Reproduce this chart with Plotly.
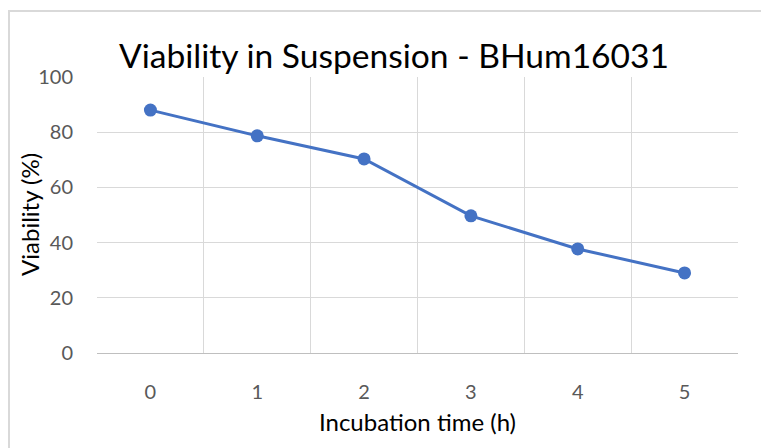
import plotly.graph_objects as go

hours = [0, 1, 2, 3, 4, 5]
hour_labels = ["0", "1", "2", "3", "4", "5"]
viability = [88.0, 78.7, 70.3, 49.7, 37.7, 29.0]
y_ticks = [0, 20, 40, 60, 80, 100]

fig = go.Figure()
fig.add_trace(go.Scatter(
    x=hours, y=viability, mode="lines+markers",
    line=dict(color="#4472C4", width=3),
    marker=dict(color="#4472C4", size=13),
    showlegend=False,
))

font_family = "Lato, Open Sans, sans-serif"
# the page body adds an 8px offset; margins are set in figure coordinates
L, R, T, B = 89, 39, 69, 103
W, H = 769, 448
pw, ph = W - L - R, H - T - B

fig.update_layout(
    width=W, height=H,
    margin=dict(l=L, r=R, t=T, b=B, autoexpand=False),
    paper_bgcolor="white", plot_bgcolor="white",
    title=dict(text="Viability in Suspension - BHum16031", x=386 / W, xanchor="center",
               xref="container", yref="container", y=0.893, yanchor="middle",
               font=dict(family=font_family, size=33.6, color="#000000")),
    xaxis=dict(
        range=[-0.5, 5.5], tickvals=hours, ticktext=hour_labels,
        showgrid=False, zeroline=False, automargin=False,
        showline=True, linecolor="#bfbfbf", linewidth=1,
        ticks="", ticklabelstandoff=21,
        tickfont=dict(family=font_family, size=20, color="#595959"),
        title=dict(text="Incubation time (h)", standoff=12,
                   font=dict(family=font_family, size=24, color="#000000")),
        minor=dict(tickvals=[-0.5, 0.5, 1.5, 2.5, 3.5, 4.5, 5.5], showgrid=True,
                   gridcolor="#d9d9d9", gridwidth=1, ticks=""),
    ),
    yaxis=dict(
        range=[0, 100], tickvals=y_ticks,
        showgrid=True, gridcolor="#d9d9d9", gridwidth=1, automargin=False,
        zeroline=False, showline=False, ticks="", ticklabelstandoff=23,
        tickfont=dict(family=font_family, size=20, color="#595959"),
    ),
    annotations=[dict(text="Viability (%)", textangle=-90, xref="paper", yref="paper",
                      x=(29 - 97) / pw, y=0.5, xanchor="center", yanchor="middle",
                      showarrow=False,
                      font=dict(family=font_family, size=24, color="#000000"))],
    shapes=[dict(type="rect", xref="paper", yref="paper",
                 x0=-(L - 1) / pw, x1=1 + (R + 20) / pw, y0=-(B + 20) / ph, y1=1 + (T - 3) / ph,
                 line=dict(color="#d9d9d9", width=2), fillcolor="rgba(0,0,0,0)", layer="below")],
)

fig.write_html("out.html")
